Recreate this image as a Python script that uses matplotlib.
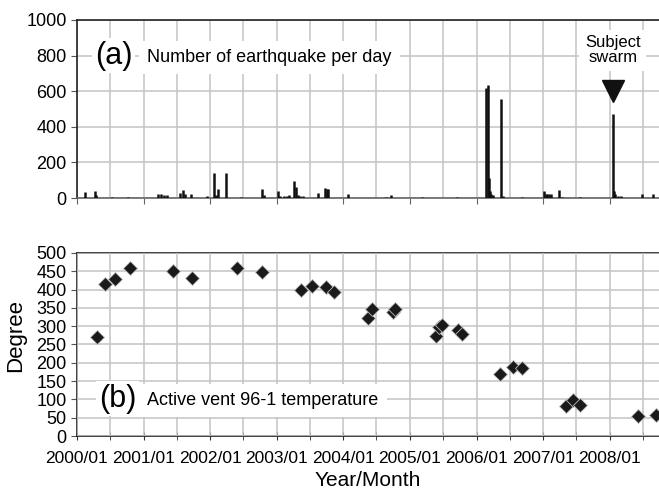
import matplotlib
matplotlib.use("Agg")
import matplotlib.pyplot as plt
import matplotlib.dates as mdates
import pandas as pd

plt.rcParams["font.family"] = ["Liberation Sans", "DejaVu Sans"]

# (a) sismos por dia: solo los dias con actividad visible
sismo_fechas = [
    "2000-02-14", "2000-04-08", "2000-04-15", "2000-07-10", "2000-10-05",
    "2001-03-20", "2001-04-05", "2001-04-25", "2001-05-10", "2001-07-20",
    "2001-08-03", "2001-08-15", "2001-09-15", "2001-12-15", "2002-01-22",
    "2002-02-01", "2002-02-10", "2002-03-31", "2002-06-20", "2002-10-12",
    "2002-10-25", "2003-01-08", "2003-01-20", "2003-02-10", "2003-02-25",
    "2003-03-10", "2003-04-08", "2003-04-15", "2003-04-25", "2003-05-10",
    "2003-05-25", "2003-08-18", "2003-09-25", "2003-10-01", "2003-10-10",
    "2004-01-25", "2004-08-20", "2004-09-20", "2005-03-10", "2005-09-15",
    "2006-02-20", "2006-03-05", "2006-03-10", "2006-03-14", "2006-03-20",
    "2006-04-01", "2006-05-14", "2006-05-25", "2006-09-10", "2007-01-05",
    "2007-01-15", "2007-01-25", "2007-02-05", "2007-02-15", "2007-03-28",
    "2007-04-15", "2007-07-20", "2008-01-18", "2008-01-24", "2008-02-01",
    "2008-02-15", "2008-03-05", "2008-06-25", "2008-08-28",
]
sismo_conteo = [
    34, 40, 15, 5, 6,
    20, 25, 18, 15, 30,
    45, 20, 20, 10, 140,
    15, 50, 140, 6, 50,
    15, 40, 10, 10, 12,
    15, 95, 60, 15, 12,
    12, 30, 55, 50, 50,
    20, 8, 15, 6, 6,
    618, 635, 110, 40, 20,
    15, 556, 10, 8, 40,
    20, 20, 22, 25, 45,
    8, 8, 472, 40, 20,
    10, 10, 25, 20,
]

# (b) temperatura del venteo activo 96-1
temp_fechas = [
    "2000-04-22", "2000-06-03", "2000-07-27", "2000-10-20", "2001-06-13",
    "2001-09-24", "2002-05-30", "2002-10-12", "2003-05-12", "2003-07-13",
    "2003-09-27", "2003-11-10", "2004-05-15", "2004-06-06", "2004-09-27",
    "2004-10-12", "2005-05-22", "2005-06-10", "2005-06-25", "2005-09-20",
    "2005-10-12", "2006-05-08", "2006-07-20", "2006-09-10", "2007-05-08",
    "2007-06-14", "2007-07-24", "2008-06-03", "2008-09-10",
]
temp_grados = [
    270, 415, 430, 460, 450,
    433, 460, 447, 400, 410,
    407, 393, 323, 347, 340,
    347, 273, 298, 302, 290,
    278, 170, 188, 186, 83,
    98, 85, 55, 57,
]

x0, x1 = pd.Timestamp("2000-01-01"), pd.Timestamp("2008-09-28")
gris = "#c4c4c4"
rect1 = [0.1168, 0.5959, 0.8832, 0.3633]

fig = plt.figure(figsize=(6.59, 4.9), dpi=100)
fondo = fig.add_axes(rect1, zorder=0)      # rejilla del panel (a) en un eje aparte
ax1 = fig.add_axes(rect1, zorder=1)
ax2 = fig.add_axes([0.1168, 0.1102, 0.8832, 0.3735])
ax1.patch.set_visible(False)

# panel (a)
ax1.vlines(pd.to_datetime(sismo_fechas), 0, sismo_conteo, color="#111111",
           linewidth=1.8, zorder=3)
ax1.plot([pd.Timestamp("2008-01-18")], [600], marker="v", markersize=16,
         color="#111111", linestyle="none", zorder=5)

# panel (b)
ax2.plot(pd.to_datetime(temp_fechas), temp_grados, linestyle="none", marker="D",
         markersize=7, color="#1a1a1a", markeredgecolor="#bbbbbb",
         markeredgewidth=0.6, zorder=5)

ax1.set_ylim(0, 1000)
ax1.set_yticks(range(0, 1001, 200))
ax2.set_ylim(0, 500)
ax2.set_yticks(range(0, 501, 50))

for ax in (ax1, ax2):
    ax.set_xlim(x0, x1)
    ax.xaxis.set_major_locator(mdates.YearLocator())
    ax.xaxis.set_minor_locator(mdates.MonthLocator(bymonth=[7]))
    ax.spines["right"].set_visible(False)
    for s in ("top", "left", "bottom"):
        ax.spines[s].set_color("#222222")
        ax.spines[s].set_linewidth(1.2)
    ax.tick_params(axis="y", labelsize=13, length=4, color="#555555", direction="out")

# rejilla del panel (b)
for xv in list(ax2.xaxis.get_majorticklocs()) + list(ax2.xaxis.get_minorticklocs()):
    ax2.axvline(xv, color=gris, linewidth=1.1, zorder=2.6)
for yv in ax2.get_yticks():
    ax2.axhline(yv, color=gris, linewidth=1.1, zorder=2.6)

# rejilla del panel (a), en el eje de fondo con las mismas escalas
locs_x = list(ax1.xaxis.get_majorticklocs()) + list(ax1.xaxis.get_minorticklocs())
fondo.set_xlim(mdates.date2num(x0), mdates.date2num(x1))
fondo.set_ylim(0, 1000)
fondo.vlines(locs_x, 0, 1000, color=gris, linewidth=1.1)
fondo.hlines(list(ax1.get_yticks()), mdates.date2num(x0), mdates.date2num(x1),
             color=gris, linewidth=1.1)
fondo.set_xticks([])
fondo.set_yticks([])
for s in fondo.spines.values():
    s.set_visible(False)

ax1.spines["bottom"].set_color("#666666")
ax1.tick_params(axis="x", which="major", labelbottom=False, length=4, color="#666666")
ax1.tick_params(axis="x", which="minor", length=0)
caja = dict(facecolor="white", edgecolor="none")
ax1.text(pd.Timestamp("2000-04-10"), 800, "(a)", fontsize=22, va="center",
         bbox=dict(caja, pad=2), zorder=4)
ax1.text(pd.Timestamp("2001-01-20"), 790, "Number of earthquake per day", fontsize=13,
         va="center", bbox=dict(caja, pad=6), zorder=4)
ax1.text(pd.Timestamp("2008-01-18"), 830, "Subject\nswarm", fontsize=12, ha="center",
         va="center", linespacing=1.0, bbox=dict(caja, pad=4), zorder=4)

ax2.xaxis.set_major_formatter(mdates.DateFormatter("%Y/%m"))
ax2.tick_params(axis="x", which="both", direction="inout", length=6, color="#333333",
                labelsize=12.5, pad=8)
ax2.set_ylabel("Degree", fontsize=16)
ax2.yaxis.set_label_coords(-0.088, 0.55)
ax2.set_xlabel("Year/Month", fontsize=15)
ax2.xaxis.set_label_coords(0.5, -0.19)
ax2.text(pd.Timestamp("2000-05-01"), 102, "(b)", fontsize=22, va="center",
         bbox=dict(caja, pad=2), zorder=4)
ax2.text(pd.Timestamp("2001-01-20"), 97, "Active vent 96-1 temperature", fontsize=13,
         va="center", bbox=dict(caja, pad=6), zorder=4)

ax1.set_xlim(x0, x1)
ax2.set_xlim(x0, x1)
fig.savefig("out.png", dpi=100)
